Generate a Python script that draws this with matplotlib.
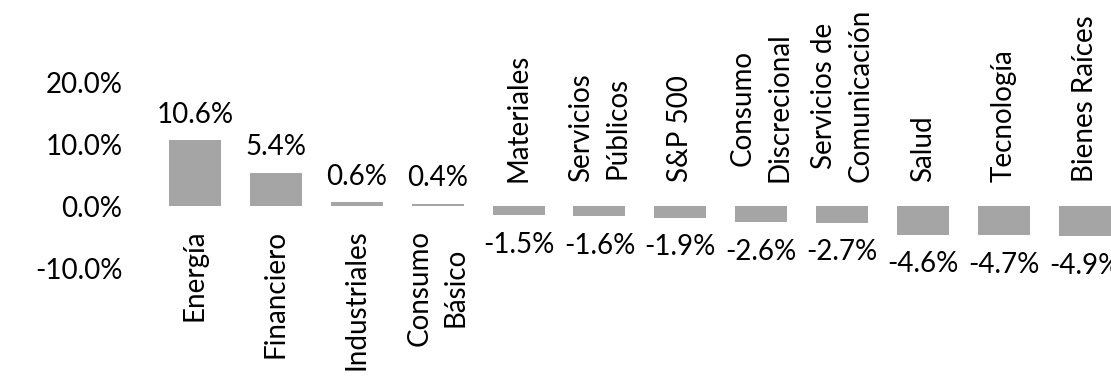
import numpy as np
import matplotlib.pyplot as plt

plt.rcParams['font.family'] = ['Lato', 'DejaVu Sans']

categorias = ['Energía', 'Financiero', 'Industriales', 'Consumo\nBásico',
              'Materiales', 'Servicios\nPúblicos', 'S&P 500', 'Consumo\nDiscrecional',
              'Servicios de\nComunicación', 'Salud', 'Tecnología', 'Bienes Raíces']
valores = [10.6, 5.4, 0.6, 0.4, -1.5, -1.6, -1.9, -2.6, -2.7, -4.6, -4.7, -4.9]
ticks = [-10, 0, 10, 20]

fs = 20
gris = '#a5a5a5'

fig = plt.figure(figsize=(11.11, 3.76), dpi=100)
# el eje se sale un poco por la derecha (como en el original)
ax = fig.add_axes([154.5/1111, 0, 970.8/1111, 1])

x = np.arange(len(valores))
v = np.array(valores)/100
ax.bar(x, v, width=0.643, color=gris)

ax.set_xlim(-0.5, len(valores)-0.5)
ax.set_ylim(-0.2742, 0.3323)
ax.set_yticks([t/100 for t in ticks])
ax.set_yticklabels(['%.1f%%' % t for t in ticks], fontsize=fs)
ax.tick_params(axis='y', length=0, pad=23)
ax.set_xticks([])
for s in ax.spines.values():
    s.set_visible(False)

for i in range(len(valores)):
    if valores[i] >= 0:
        ax.annotate('%.1f%%' % valores[i], (x[i], v[i]), xytext=(0, 9), textcoords='offset points',
                    ha='center', va='bottom', fontsize=fs)
        ax.annotate(categorias[i], (x[i], 0), xytext=(0, -17), textcoords='offset points',
                    ha='center', va='top', rotation=90, multialignment='center', fontsize=fs,
                    linespacing=1.5, annotation_clip=False)
    else:
        ax.annotate('%.1f%%' % valores[i], (x[i], v[i]), xytext=(0, -12), textcoords='offset points',
                    ha='center', va='top', fontsize=fs)
        ax.annotate(categorias[i], (x[i], 0), xytext=(0, 17), textcoords='offset points',
                    ha='center', va='bottom', rotation=90, multialignment='center', fontsize=fs,
                    linespacing=1.5, annotation_clip=False)

fig.savefig('out.png', dpi=100)
